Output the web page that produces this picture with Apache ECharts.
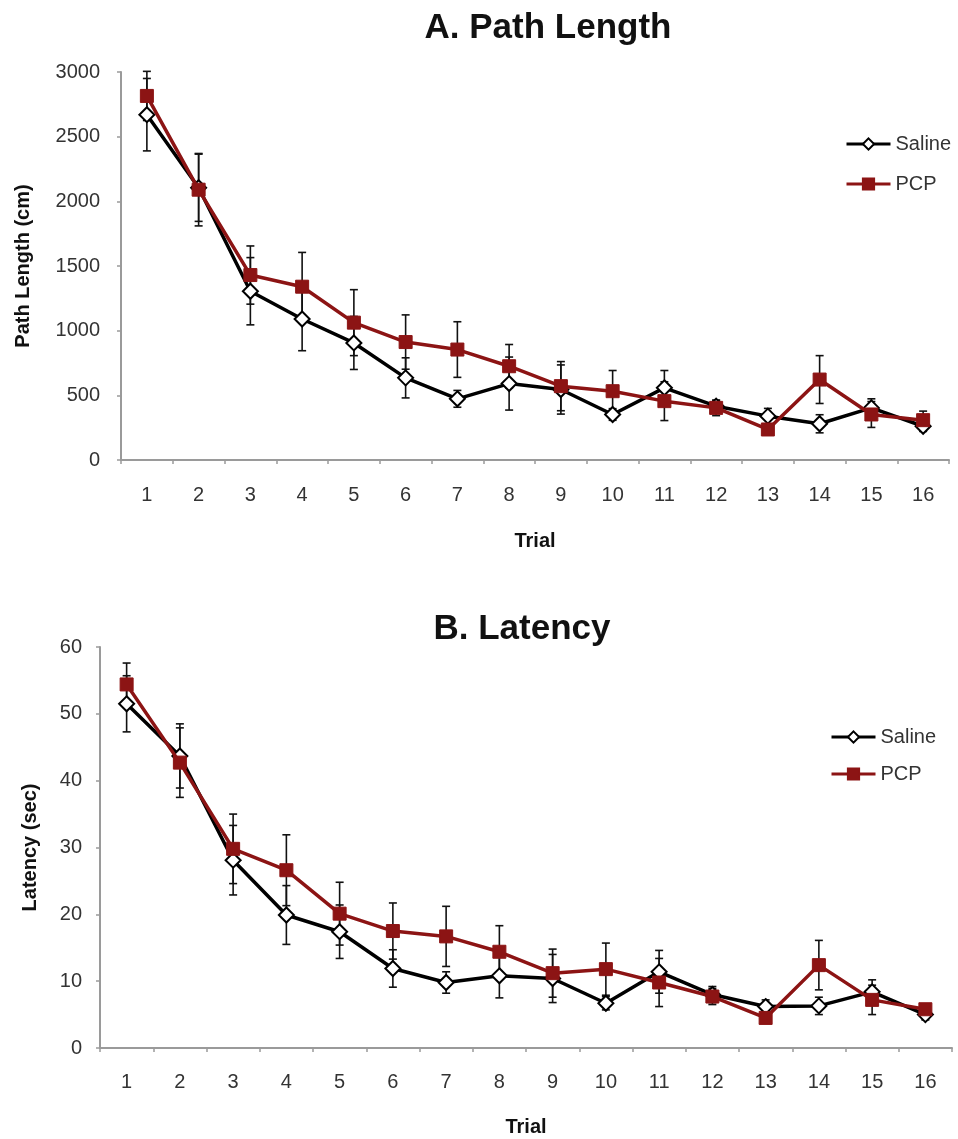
<!DOCTYPE html>
<html>
<head>
<meta charset="utf-8">
<script src="https://cdn.jsdelivr.net/npm/echarts@6/dist/echarts.min.js"></script>
<style>
html,body{margin:0;padding:0;background:#fff;}
#chart{width:958px;height:1139px;}
</style>
</head>
<body>
<div id="chart"></div>
<script>
const trials = ['1','2','3','4','5','6','7','8','9','10','11','12','13','14','15','16'];

const pathSaline    = [2670, 2105, 1305, 1090, 905, 635, 473, 591, 545, 352, 558, 416, 339, 280, 403, 261];
const pathSalineErr = [280, 260, 260, 245, 205, 155, 65, 205, 190, 45, 134, 45, 60, 70, 70, 40];
const pathPCP       = [2815, 2090, 1430, 1340, 1062, 912, 854, 725, 571, 532, 455, 403, 236, 622, 352, 308];
const pathPCPErr    = [190, 280, 225, 265, 255, 210, 215, 168, 190, 160, 150, 60, 30, 185, 100, 70];

const latSaline    = [51.5, 43.7, 28.1, 19.9, 17.4, 11.9, 9.8, 10.8, 10.4, 6.7, 11.4, 8.0, 6.2, 6.3, 8.4, 5.0];
const latSalineErr = [4.2, 4.8, 5.2, 4.4, 4.0, 2.8, 1.6, 3.3, 3.6, 1.0, 3.2, 1.2, 1.0, 1.3, 1.8, 0.8];
const latPCP       = [54.4, 42.7, 29.8, 26.6, 20.1, 17.5, 16.7, 14.4, 11.2, 11.8, 9.8, 7.7, 4.5, 12.4, 7.2, 5.8];
const latPCPErr    = [3.2, 5.2, 5.2, 5.3, 4.7, 4.2, 4.5, 3.9, 3.6, 3.9, 3.6, 1.2, 0.8, 3.7, 2.2, 0.8];

const titles = ['A. Path Length', 'B. Latency'];
const yNames = ['Path Length (cm)', 'Latency (sec)'];
const xName = 'Trial';
const seriesNames = ['Saline', 'PCP'];

const RED = '#8c1414';
const FONT = 'Liberation Sans, Arial, sans-serif';

function errData(vals, errs) {
  return vals.map((v, i) => [i, v - errs[i], v + errs[i]]);
}
function errRender(params, api) {
  const x = api.value(0);
  const lo = api.coord([x, api.value(1)]);
  const hi = api.coord([x, api.value(2)]);
  const w = 4;
  const st = {stroke: '#111', lineWidth: 1.6};
  return {type: 'group', children: [
    {type: 'line', shape: {x1: hi[0], y1: hi[1], x2: lo[0], y2: lo[1]}, style: st},
    {type: 'line', shape: {x1: hi[0]-w, y1: hi[1], x2: hi[0]+w, y2: hi[1]}, style: st},
    {type: 'line', shape: {x1: lo[0]-w, y1: lo[1], x2: lo[0]+w, y2: lo[1]}, style: st}
  ]};
}

const axisLineStyle = {color: '#9a9a9a', width: 2};
function xAxis(gi, margin, gap) {
  return {
    type: 'category', gridIndex: gi, data: trials, boundaryGap: true,
    axisLine: {lineStyle: axisLineStyle},
    axisTick: {show: true, interval: 0, length: 4, lineStyle: {color: '#9a9a9a', width: 1.5}},
    axisLabel: {fontSize: 20, color: '#333', margin: margin, fontFamily: FONT, interval: 0},
    name: xName, nameLocation: 'middle', nameGap: gap,
    nameTextStyle: {fontSize: 20, fontWeight: 'bold', color: '#111', fontFamily: FONT},
    splitLine: {show: false}
  };
}
function yAxis(gi, max, interval, name, gap, margin) {
  return {
    type: 'value', gridIndex: gi, min: 0, max: max, interval: interval,
    axisLine: {show: true, lineStyle: axisLineStyle},
    axisTick: {show: true, length: 4, lineStyle: {color: '#9a9a9a', width: 1.5}},
    axisLabel: {fontSize: 20, color: '#333', margin: margin, fontFamily: FONT,
                formatter: v => String(v)},
    splitLine: {show: false},
    name: name, nameLocation: 'middle', nameGap: gap,
    nameTextStyle: {fontSize: 20, fontWeight: 'bold', color: '#111', fontFamily: FONT}
  };
}
function salineSeries(gi, data) {
  return {
    name: seriesNames[0], type: 'line', xAxisIndex: gi, yAxisIndex: gi, data: data,
    symbol: 'diamond', symbolSize: 15,
    lineStyle: {color: '#000', width: 3.5},
    itemStyle: {color: '#fff', borderColor: '#000', borderWidth: 2},
    z: 3, emphasis: {disabled: true}
  };
}
function pcpSeries(gi, data) {
  return {
    name: seriesNames[1], type: 'line', xAxisIndex: gi, yAxisIndex: gi, data: data,
    symbol: 'rect', symbolSize: 13,
    lineStyle: {color: RED, width: 3.5},
    itemStyle: {color: RED, borderColor: RED, borderWidth: 1},
    z: 4, emphasis: {disabled: true}
  };
}
function errSeries(gi, vals, errs) {
  return {
    name: 'err', type: 'custom', xAxisIndex: gi, yAxisIndex: gi,
    data: errData(vals, errs), renderItem: errRender,
    encode: {x: 0, y: [1, 2]}, z: 2, silent: true
  };
}
function legend(left, top, gap) {
  return {data: seriesNames, orient: 'vertical', left: left, top: top, itemWidth: 44, itemHeight: 14,
    itemGap: gap, lineStyle: {width: 3}, textStyle: {fontSize: 20, color: '#333', fontFamily: FONT},
    selectedMode: false};
}

const chart = echarts.init(document.getElementById('chart'), null, {renderer: 'canvas'});
chart.setOption({
  animation: false,
  backgroundColor: '#fff',
  title: [
    {text: titles[0], left: 543, top: 6, textAlign: 'center',
     textStyle: {fontSize: 35, fontWeight: 'bold', color: '#111', fontFamily: FONT}},
    {text: titles[1], left: 517, top: 607, textAlign: 'center',
     textStyle: {fontSize: 35, fontWeight: 'bold', color: '#111', fontFamily: FONT}}
  ],
  legend: [legend(840, 129, 20), legend(825, 722, 17)],
  grid: [
    {left: 121, right: 9, top: 72, height: 388},
    {left: 100, right: 6, top: 647, height: 401}
  ],
  xAxis: [xAxis(0, 25, 71), xAxis(1, 24, 69)],
  yAxis: [yAxis(0, 3000, 500, yNames[0], 88, 21), yAxis(1, 60, 10, yNames[1], 60, 18)],
  series: [
    errSeries(0, pathSaline, pathSalineErr),
    errSeries(0, pathPCP, pathPCPErr),
    salineSeries(0, pathSaline),
    pcpSeries(0, pathPCP),
    errSeries(1, latSaline, latSalineErr),
    errSeries(1, latPCP, latPCPErr),
    salineSeries(1, latSaline),
    pcpSeries(1, latPCP)
  ]
});
</script>
</body>
</html>
